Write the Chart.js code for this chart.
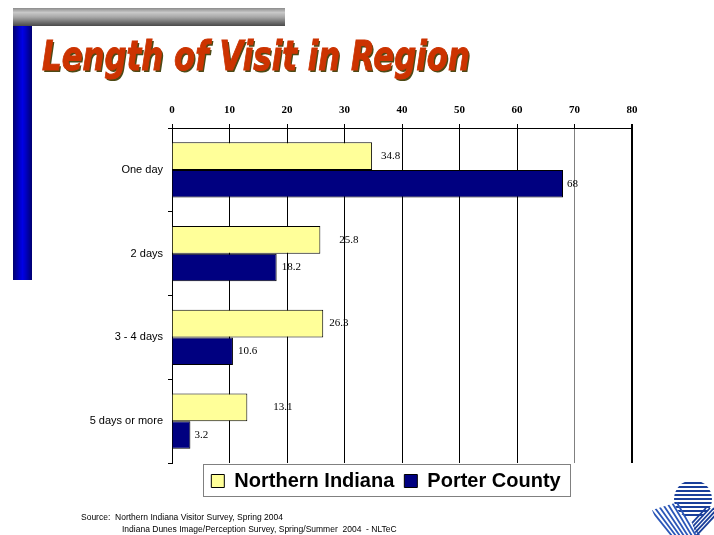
<!DOCTYPE html>
<html>
<head>
<meta charset="utf-8">
<script src="https://cdn.jsdelivr.net/npm/chart.js@4.4.1/dist/chart.umd.min.js"></script>
<style>
  html, body { margin: 0; padding: 0; background: #fff; }
  body { width: 714px; height: 535px; position: relative; overflow: hidden; }
  #wrap { position: absolute; left: 0; top: 0; width: 714px; height: 535px; }
  #greybar { position: absolute; left: 13px; top: 8px; width: 272px; height: 18px;
    background: linear-gradient(to bottom, #8c8c8c 0%, #c8c8c8 25%, #a8a8a8 50%, #6e6e6e 80%, #4a4a4a 100%); }
  #bluebar { position: absolute; left: 13px; top: 26px; width: 19px; height: 254px;
    background: linear-gradient(to right, #000070 0%, #0000c8 35%, #0000e6 50%, #0000c8 65%, #000070 100%); }
  #title { position: absolute; left: 42px; top: 32px; white-space: nowrap;
    font-family: "DejaVu Sans", sans-serif; font-weight: bold; font-style: italic; font-size: 41px;
    color: #cc3300; -webkit-text-stroke: 1px #cc3300; text-shadow: 2px 2px 0 #4d4a16; transform-origin: 0 0; }
  .src { position: absolute; font-family: "Liberation Sans", Arial, sans-serif; font-size: 8.5px; color: #000; white-space: pre; }
  #logo { position: absolute; left: 648px; top: 480px; }
</style>
</head>
<body>
<div id="wrap"><canvas id="c" width="714" height="535"></canvas></div>
<div id="greybar"></div>
<div id="bluebar"></div>
<div id="title">Length of Visit in Region</div>
<div class="src" style="left:81px; top:512px;">Source:  Northern Indiana Visitor Survey, Spring 2004</div>
<div class="src" style="left:122px; top:524px;">Indiana Dunes Image/Perception Survey, Spring/Summer  2004  - NLTeC</div>
<svg id="logo" width="66" height="55" viewBox="0 0 66 55">
  <defs>
    <clipPath id="cTop"><circle cx="45" cy="19" r="19"/></clipPath>
    <clipPath id="cBot"><polygon points="4,30 30,22 52,55 14,55"/></clipPath>
    <clipPath id="cRight"><polygon points="40,30 66,24 66,55 48,55"/></clipPath>
  </defs>
  <g clip-path="url(#cTop)" stroke="#1a3f9a" stroke-width="2">
    <line x1="20" y1="3" x2="66" y2="3"/><line x1="20" y1="7" x2="66" y2="7"/>
    <line x1="20" y1="11" x2="66" y2="11"/><line x1="20" y1="15" x2="66" y2="15"/>
    <line x1="20" y1="19" x2="66" y2="19"/><line x1="20" y1="23" x2="66" y2="23"/>
    <line x1="20" y1="27" x2="66" y2="27"/><line x1="20" y1="31" x2="66" y2="31"/>
    <line x1="20" y1="35" x2="66" y2="35"/>
  </g>
  <g clip-path="url(#cBot)" stroke="#2a56b8" stroke-width="1.8">
    <line x1="0" y1="26" x2="24" y2="56"/><line x1="4" y1="24" x2="28" y2="56"/>
    <line x1="8" y1="22" x2="32" y2="56"/><line x1="12" y1="20" x2="36" y2="56"/>
    <line x1="16" y1="18" x2="40" y2="56"/><line x1="20" y1="16" x2="44" y2="56"/>
    <line x1="24" y1="14" x2="48" y2="56"/><line x1="28" y1="12" x2="52" y2="56"/>
  </g>
  <g clip-path="url(#cRight)" stroke="#1a3f9a" stroke-width="1.8">
    <line x1="40" y1="56" x2="66" y2="28"/><line x1="44" y1="56" x2="70" y2="28"/>
    <line x1="48" y1="56" x2="74" y2="28"/><line x1="36" y1="56" x2="62" y2="28"/>
    <line x1="32" y1="56" x2="58" y2="28"/>
  </g>
</svg>
<script>
// ---- data ----
const categories = ['One day', '2 days', '3 - 4 days', '5 days or more'];
const northernIndiana = [34.8, 25.8, 26.3, 13.1];
const porterCounty = [68, 18.2, 10.6, 3.2];
const seriesNames = ['Northern Indiana', 'Porter County'];
const xTickMin = 0, xTickMax = 80, xTickStep = 10;

// label horizontal shifts (style, in px) per series, per category
const labelShift = [[9, 19, 6, 26], [4, 5, 5, 4]];

const valueLabels = {
  id: 'valueLabels',
  afterDatasetsDraw(chart) {
    const ctx = chart.ctx;
    ctx.save();
    ctx.font = '11px "Liberation Serif", "Times New Roman", serif';
    ctx.fillStyle = '#000';
    ctx.textAlign = 'left';
    ctx.textBaseline = 'middle';
    chart.data.datasets.forEach((ds, d) => {
      const meta = chart.getDatasetMeta(d);
      meta.data.forEach((bar, i) => {
        ctx.fillText(String(ds.data[i]), bar.x + labelShift[d][i], bar.y);
      });
    });
    ctx.restore();
  }
};

// legend: centred under the plot area like the reference, with a grey frame
const legendPlace = {
  id: 'legendPlace',
  afterLayout(chart) {
    const lg = chart.legend;
    if (!lg) return;
    lg.left = 140;
    lg.right = 632;
    lg.top -= 2;
    lg.bottom -= 2;
  },
  afterDraw(chart) {
    const lg = chart.legend;
    if (!lg || !lg.legendHitBoxes || !lg.legendHitBoxes.length) return;
    const hb = lg.legendHitBoxes;
    const left = Math.round(hb[0].left) - 7.5;
    const last = hb[hb.length - 1];
    const right = Math.round(last.left + last.width) + 9.5;
    const top = Math.round(chart.chartArea.bottom) + 1.5;
    const bottom = top + 32;
    const ctx = chart.ctx;
    ctx.save();
    ctx.strokeStyle = '#808080';
    ctx.lineWidth = 1;
    ctx.strokeRect(left, top, right - left, bottom - top);
    ctx.restore();
  }
};

new Chart(document.getElementById('c'), {
  type: 'bar',
  data: {
    labels: categories,
    datasets: [
      { label: seriesNames[0], data: northernIndiana, backgroundColor: '#ffff99', borderColor: '#000', borderWidth: 1 },
      { label: seriesNames[1], data: porterCounty, backgroundColor: '#000080', borderColor: '#000', borderWidth: 1 }
    ]
  },
  options: {
    indexAxis: 'y',
    responsive: false,
    animation: false,
    devicePixelRatio: 1,
    categoryPercentage: 0.66,
    barPercentage: 1.0,
    layout: { padding: { left: 60, right: 82, top: 90, bottom: 32 } },
    plugins: {
      title: { display: false },
      tooltip: { enabled: false },
      legend: {
        display: true,
        position: 'bottom',
        labels: {
          boxWidth: 13, boxHeight: 13, padding: 10,
          color: '#000',
          font: { family: '"Liberation Sans", Arial, sans-serif', size: 20, weight: 'bold' }
        }
      }
    },
    scales: {
      x: {
        position: 'top',
        min: xTickMin, max: xTickMax,
        ticks: { stepSize: xTickStep, color: '#000', padding: 7,
          font: { family: '"Liberation Serif", "Times New Roman", serif', size: 11, weight: 'bold' } },
        grid: {
          color: (c) => (c.tick && c.tick.value === 70) ? '#808080' : '#000',
          lineWidth: (c) => (c.tick && c.tick.value === 80) ? 2 : 1,
          tickColor: '#000', tickLength: 4
        },
        border: { display: true, color: '#000', width: 1 },
        afterFit(scale) { scale.height = 38; }
      },
      y: {
        ticks: { color: '#000', padding: 5,
          font: { family: '"Liberation Sans", Arial, sans-serif', size: 11 } },
        grid: {
          offset: true,
          color: (c) => c.index === categories.length ? '#808080' : 'rgba(0,0,0,0)',
          tickColor: '#000', tickLength: 4
        },
        border: { display: true, color: '#000', width: 1 },
        afterFit(scale) { scale.width = 112; }
      }
    }
  },
  plugins: [valueLabels, legendPlace]
});

// fit title width to the reference
const t = document.getElementById('title');
const w = t.getBoundingClientRect().width;
t.style.transform = 'scaleX(' + (428 / w) + ')';
</script>
</body>
</html>
